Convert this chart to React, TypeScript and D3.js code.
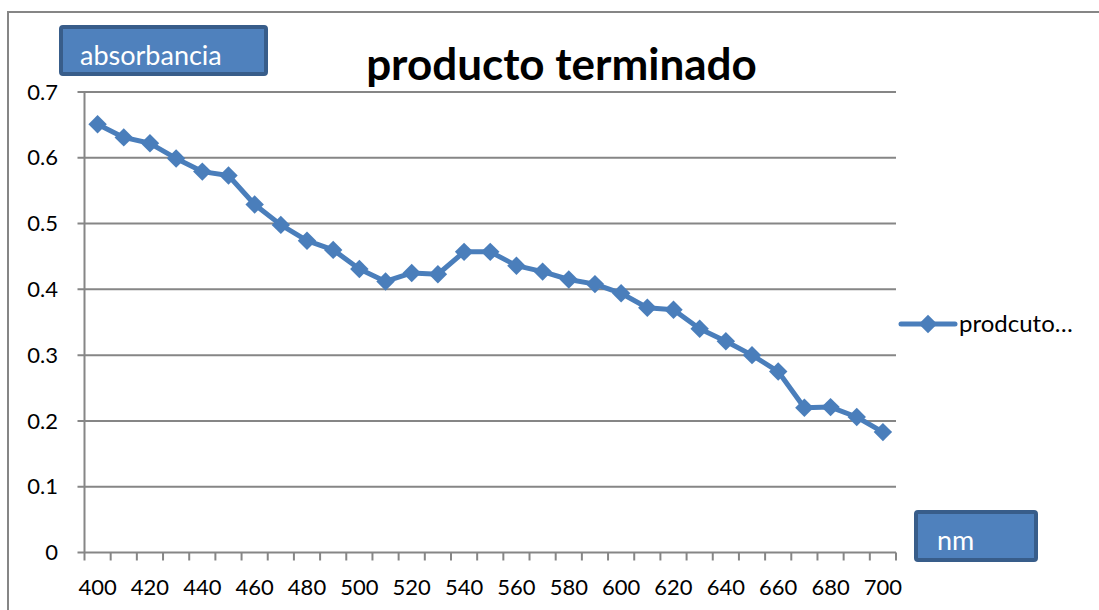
import React, { useEffect, useRef } from "react";
import * as d3 from "d3";

// wavelengths (nm) and absorbance readings
const wavelengths = [
  400, 410, 420, 430, 440, 450, 460, 470, 480, 490, 500, 510, 520, 530, 540, 550,
  560, 570, 580, 590, 600, 610, 620, 630, 640, 650, 660, 670, 680, 690, 700,
];
const absorbance = [
  0.651, 0.631, 0.622, 0.599, 0.579, 0.573, 0.529, 0.498, 0.474, 0.46, 0.431, 0.412,
  0.425, 0.423, 0.457, 0.457, 0.436, 0.427, 0.415, 0.408, 0.394, 0.372, 0.369, 0.34,
  0.321, 0.3, 0.275, 0.22, 0.221, 0.206, 0.183,
];
const yTicks = [0, 0.1, 0.2, 0.3, 0.4, 0.5, 0.6, 0.7];
const xLabels = [400, 420, 440, 460, 480, 500, 520, 540, 560, 580, 600, 620, 640, 660, 680, 700];

const chartTitle = "producto terminado";
const seriesName = "prodcuto…";
const yTitle = "absorbancia";
const xTitle = "nm";

const W = 1099, H = 610;
const FONT = "Lato, 'Open Sans', sans-serif";
const BLUE = "#4A7EBB";
const GRID = "#868686";

const App = () => {
  const ref = useRef<SVGSVGElement>(null);

  useEffect(() => {
    const svg = d3.select(ref.current);
    svg.selectAll("*").remove();

    const plot = { left: 84.5, right: 896, top: 92, bottom: 552.5 };

    const x = d3.scaleBand<number>().domain(wavelengths).range([plot.left, plot.right]).padding(0);
    const y = d3.scaleLinear().domain([0, 0.7]).range([plot.bottom, plot.top]);

    // outer chart frame (cut off at the right / bottom)
    svg.append("rect")
      .attr("x", 8).attr("y", 12)
      .attr("width", W + 20).attr("height", H + 20)
      .attr("fill", "#fff")
      .attr("stroke", GRID).attr("stroke-width", 2);

    // gridlines
    svg.append("g")
      .selectAll("line")
      .data(yTicks)
      .join("line")
      .attr("x1", plot.left - 7).attr("x2", plot.right)
      .attr("y1", (d) => y(d)).attr("y2", (d) => y(d))
      .attr("stroke", GRID).attr("stroke-width", 2);

    // y axis line
    svg.append("line")
      .attr("x1", plot.left).attr("x2", plot.left)
      .attr("y1", plot.top).attr("y2", plot.bottom)
      .attr("stroke", GRID).attr("stroke-width", 2);

    // x tick marks between categories
    const bounds = wavelengths.map((w) => x(w)!).concat([plot.right]);
    svg.append("g")
      .selectAll("line")
      .data(bounds)
      .join("line")
      .attr("x1", (d) => d).attr("x2", (d) => d)
      .attr("y1", plot.bottom).attr("y2", plot.bottom + 8)
      .attr("stroke", GRID).attr("stroke-width", 2);

    // y tick labels
    svg.append("g")
      .selectAll("text")
      .data(yTicks)
      .join("text")
      .attr("x", 58)
      .attr("y", (d) => y(d))
      .attr("dy", "0.35em")
      .attr("text-anchor", "end")
      .attr("font-family", FONT)
      .attr("font-size", 22)
      .text((d) => (d === 0 ? "0" : d3.format(".1f")(d)));

    // x tick labels
    svg.append("g")
      .selectAll("text")
      .data(xLabels)
      .join("text")
      .attr("x", (d) => x(d)! + x.bandwidth() / 2)
      .attr("y", 595)
      .attr("text-anchor", "middle")
      .attr("font-family", FONT)
      .attr("font-size", 22)
      .text((d) => d);

    // series line
    const line = d3.line<number>()
      .x((_, i) => x(wavelengths[i])! + x.bandwidth() / 2)
      .y((d) => y(d));

    svg.append("path")
      .datum(absorbance)
      .attr("d", line)
      .attr("fill", "none")
      .attr("stroke", BLUE)
      .attr("stroke-width", 5)
      .attr("stroke-linejoin", "round");

    const diamond = d3.symbol().type(d3.symbolSquare).size(170);
    svg.append("g")
      .selectAll("path")
      .data(absorbance)
      .join("path")
      .attr("d", diamond)
      .attr("transform", (d, i) => `translate(${x(wavelengths[i])! + x.bandwidth() / 2},${y(d)}) rotate(45)`)
      .attr("fill", BLUE);

    // title
    svg.append("text")
      .attr("x", 561.5)
      .attr("y", 80)
      .attr("text-anchor", "middle")
      .attr("font-family", FONT)
      .attr("font-weight", "bold")
      .attr("font-size", 44)
      .text(chartTitle);

    // axis title boxes
    const box = (bx: number, by: number, bw: number, bh: number, label: string, tx: number, ty: number) => {
      svg.append("rect")
        .attr("x", bx).attr("y", by).attr("width", bw).attr("height", bh)
        .attr("rx", 2)
        .attr("fill", "#4F81BD")
        .attr("stroke", "#385D8A").attr("stroke-width", 4);
      svg.append("text")
        .attr("x", tx).attr("y", ty)
        .attr("font-family", FONT)
        .attr("font-size", 27)
        .attr("fill", "#fff")
        .text(label);
    };
    box(61, 27, 205, 47, yTitle, 80, 65);
    box(916, 512, 120, 48, xTitle, 937, 550);

    // legend
    svg.append("line")
      .attr("x1", 901).attr("x2", 955)
      .attr("y1", 324).attr("y2", 324)
      .attr("stroke", BLUE).attr("stroke-width", 5)
      .attr("stroke-linecap", "round");
    svg.append("path")
      .attr("d", diamond)
      .attr("transform", "translate(928,324) rotate(45)")
      .attr("fill", BLUE);
    svg.append("text")
      .attr("x", 959).attr("y", 332)
      .attr("font-family", FONT)
      .attr("font-size", 24)
      .text(seriesName);
  }, []);

  return <svg ref={ref} width={W} height={H} style={{ position: "absolute", left: 0, top: 0 }} />;
};

export default App;
